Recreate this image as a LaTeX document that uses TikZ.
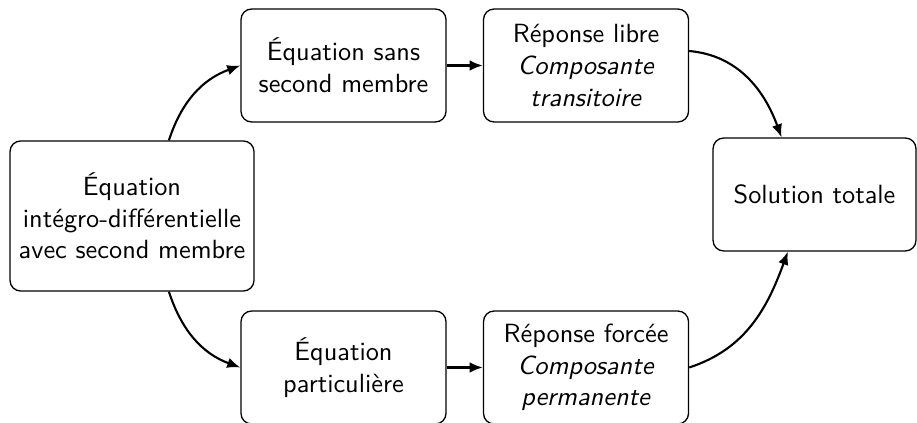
\documentclass[tikz,border=0pt]{standalone}
\usepackage{fontspec}
\usetikzlibrary{arrows.meta}
\renewcommand{\familydefault}{\sfdefault}
\begin{document}
\begin{tikzpicture}[x=0.38pt,y=-0.38pt,
  box/.style={draw,line width=0.5pt,rounded corners=4pt,align=center,inner sep=1pt,
     font=\sffamily},
  mid/.style={box,minimum width=77.9pt,minimum height=42.9pt},
  flow/.style={thick,-{Latex[length=5pt,width=4pt]}}]
\useasboundingbox (0,0) rectangle (917,423);
\node[box,minimum width=92.7pt,minimum height=57pt] (src) at (132,216)
  {Équation\\intégro-différentielle\\avec second membre};
\node[mid] (ssm) at (343.5,65.5) {Équation sans\\second membre};
\node[mid] (lib) at (586,65.5) {Réponse libre\\\textit{Composante}\\\textit{transitoire}};
\node[mid] (par) at (343.5,367.5) {Équation\\particulière};
\node[mid] (frc) at (586,367.5) {Réponse forcée\\\textit{Composante}\\\textit{permanente}};
\node[box,minimum width=77.1pt,minimum height=42.9pt] (sol) at (814.5,194.5) {Solution totale};
\draw[flow] (src.64) to[out=72,in=200] (ssm.west);
\draw[flow] (src.-64) to[out=-72,in=160] (par.west);
\draw[flow] (ssm.east) -- (lib.west);
\draw[flow] (par.east) -- (frc.west);
\draw[flow] (lib.8) to[out=-5,in=110] (sol.120);
\draw[flow] (frc.east) to[out=18,in=250] (sol.-115);
\end{tikzpicture}
\end{document}
